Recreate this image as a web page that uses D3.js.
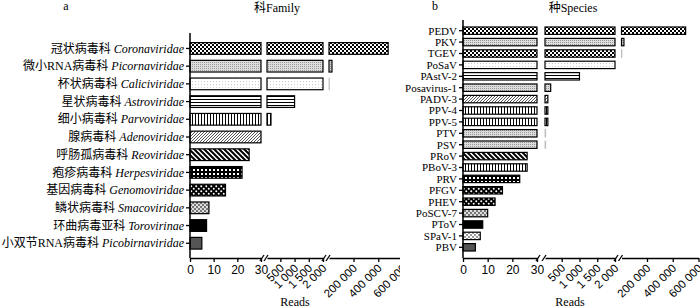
<!DOCTYPE html>
<html>
<head>
<meta charset="utf-8">
<script src="https://cdn.jsdelivr.net/npm/d3@7"></script>
<style>
  body { margin: 0; background: #fff; }
  svg { display: block; font-family: "Liberation Serif", "Times New Roman", "Noto Sans CJK SC", serif; }
</style>
</head>
<body>
<div id="chart"></div>
<script>
// data
const familyCn = ["冠状病毒科", "微小RNA病毒科", "杯状病毒科", "星状病毒科", "细小病毒科", "腺病毒科",
  "呼肠孤病毒科", "疱疹病毒科", "基因病毒科", "鳞状病毒科", "环曲病毒亚科", "小双节RNA病毒科"];
const familyLatin = ["Coronaviridae", "Picornaviridae", "Caliciviridae", "Astroviridae", "Parvoviridae", "Adenoviridae",
  "Reoviridae", "Herpesviridae", "Genomoviridae", "Smacoviridae", "Torovirinae", "Picobirnaviridae"];
const familyReads = [480000, 26000, 6000, 1000, 170, 30, 25, 22, 15, 8, 7, 5];

const speciesNames = ["PEDV", "PKV", "TGEV", "PoSaV", "PAstV-2", "Posavirus-1", "PADV-3", "PPV-4", "PPV-5", "PTV", "PSV",
  "PRoV", "PBoV-3", "PRV", "PFGV", "PHEV", "PoSCV-7", "PToV", "SPaV-1", "PBV"];
const speciesReads = [500000, 21000, 5000, 2000, 1000, 190, 110, 110, 110, 50, 50,
  26, 26, 23, 16, 13, 10, 8, 7, 5];

// broken x axis: three segments
const segDomains = [[0, 30], [30, 2000], [2000, 600000]];
const segTicks = [[0, 10, 20, 30], [500, 1000, 1500, 2000], [200000, 400000, 600000]];

// fill pattern per bar (style)
const familyFill = ["check", "grayDots", "lightDots", "hLines", "vLines", "diagFine",
  "diagThick", "grid", "dots", "grayCheck", "black", "darkGray"];
const speciesFill = ["check", "grayDots", "check", "lightDots", "hLines", "grayDots", "diagFine", "vLines", "vLines", "grayDots", "grayDots",
  "diagThick", "vLines", "grid", "dots", "dots", "grayCheck", "black", "lightCheck", "darkGray"];

const W = 700, H = 308;
const svg = d3.select("#chart").append("svg").attr("width", W).attr("height", H);
const defs = svg.append("defs");

function pat(id, w, h, bg, draw) {
  const p = defs.append("pattern").attr("id", id)
    .attr("patternUnits", "userSpaceOnUse").attr("width", w).attr("height", h);
  p.append("rect").attr("width", w).attr("height", h).attr("fill", bg);
  draw(p);
}
const sq = (p, x, y, s, c) => p.append("rect").attr("x", x).attr("y", y).attr("width", s).attr("height", s).attr("fill", c);

pat("check", 4, 4, "#fff", p => { sq(p, 0, 0, 2, "#000"); sq(p, 2, 2, 2, "#000"); });
pat("grayCheck", 4, 4, "#777", p => { sq(p, 0, 0, 2, "#ddd"); sq(p, 2, 2, 2, "#ddd"); });
pat("lightCheck", 4, 4, "#fff", p => { sq(p, 0, 0, 2, "#999"); sq(p, 2, 2, 2, "#999"); });
pat("grayDots", 2, 2, "#ddd", p => { sq(p, 0, 0, 1, "#999"); });
pat("lightDots", 3, 3, "#fff", p => { sq(p, 0, 0, 1, "#ccc"); });
pat("hLines", 3, 3, "#fff", p => { p.append("rect").attr("width", 3).attr("height", 1).attr("fill", "#000"); });
pat("vLines", 3, 3, "#fff", p => { p.append("rect").attr("width", 1).attr("height", 3).attr("fill", "#000"); });
pat("diagFine", 3, 3, "#fff", p => {
  p.append("path").attr("d", "M-1,1 l2,-2 M0,3 l3,-3 M2,4 l2,-2").attr("stroke", "#555").attr("stroke-width", 1);
});
pat("diagThick", 5, 5, "#fff", p => {
  p.append("path").attr("d", "M-1,-1 l7,7 M-1,4 l2,2 M4,-1 l2,2").attr("stroke", "#000").attr("stroke-width", 2);
});
pat("grid", 4, 4, "#000", p => { sq(p, 1, 1, 2, "#fff"); });
pat("dots", 5, 5, "#000", p => {
  p.append("circle").attr("cx", 1.25).attr("cy", 1.25).attr("r", 1).attr("fill", "#fff");
  p.append("circle").attr("cx", 3.75).attr("cy", 3.75).attr("r", 1).attr("fill", "#fff");
});
const fillOf = k => k === "black" ? "#000" : k === "darkGray" ? "#555" : `url(#${k})`;

const locale = d3.formatLocale({ decimal: ".", thousands: " ", grouping: [3], currency: ["", ""] });
const fmt = locale.format(",");

function drawPanel(cfg) {
  defs.append("clipPath").attr("id", "clip-" + cfg.id)
    .append("rect").attr("x", cfg.clip[0]).attr("y", 0).attr("width", cfg.clip[1] - cfg.clip[0]).attr("height", H);
  const g = svg.append("g").attr("clip-path", `url(#clip-${cfg.id})`);

  const y = d3.scaleBand().domain(d3.range(cfg.values.length)).range(cfg.yRange).padding(cfg.pad);
  const xs = segDomains.map((d, i) => d3.scaleLinear().domain(d).range(cfg.segRanges[i]));

  // bars, one rectangle per segment
  xs.forEach((x, si) => {
    const [d0, d1] = x.domain();
    g.append("g").selectAll("rect")
      .data(cfg.values.map((v, i) => ({ v, i, w: x(Math.min(v, d1)) - x(d0) })).filter(d => d.v > d0))
      .join("rect")
      .attr("x", x(d0))
      .attr("y", d => y(d.i))
      .attr("width", d => Math.max(0.4, d.w))
      .attr("height", y.bandwidth())
      .attr("fill", d => fillOf(cfg.fills[d.i]))
      .attr("stroke", d => d.w < 1.5 ? "#bbb" : "#000")
      .attr("stroke-width", d => d.w < 1.5 ? 0.8 : 1.2);
  });

  // x axes
  xs.forEach((x, si) => {
    const ax = g.append("g").attr("transform", `translate(0,${cfg.axisY})`)
      .call(d3.axisBottom(x).tickValues(segTicks[si]).tickFormat(fmt).tickSize(4).tickSizeOuter(0));
    ax.select(".domain").attr("stroke-width", 1.5);
    ax.selectAll(".tick line").attr("stroke-width", 1.3);
    ax.selectAll("text").attr("font-size", 12).attr("fill", "#000");
    if (si > 0) {
      ax.selectAll("text")
        .attr("text-anchor", "end")
        .attr("x", 0).attr("y", 0).attr("dy", "0.35em")
        .attr("transform", "translate(1,8) rotate(-45)")
        .attr("font-size", 11.5);
    }
  });

  // break marks
  for (let i = 0; i < 2; i++) {
    [cfg.segRanges[i][1] + 1, cfg.segRanges[i + 1][0] - 1].forEach(bx => {
      g.append("line").attr("x1", bx - 2).attr("y1", cfg.axisY + 3).attr("x2", bx + 2).attr("y2", cfg.axisY - 3)
        .attr("stroke", "#000").attr("stroke-width", 1.3);
    });
  }

  // y axis
  const yAx = g.append("g").attr("transform", `translate(${cfg.segRanges[0][0]},0)`)
    .call(d3.axisLeft(y).tickSize(4).tickSizeOuter(0).tickFormat(""));
  yAx.select(".domain").attr("d", `M0,${cfg.axisTop}V${cfg.axisY}`).attr("stroke-width", 1.5);
  yAx.selectAll(".tick line").attr("stroke-width", 1.3);

  g.append("g").selectAll("text").data(cfg.values).join("text")
    .attr("x", cfg.segRanges[0][0] - 6)
    .attr("y", (d, i) => y(i) + y.bandwidth() / 2)
    .attr("dy", "0.35em")
    .attr("text-anchor", "end")
    .attr("font-size", cfg.labelSize)
    .each(function (d, i) { cfg.label(d3.select(this), i); });

  // titles
  svg.append("text").attr("x", cfg.tagX).attr("y", 10).attr("font-size", 12).attr("text-anchor", "middle").text(cfg.tag);
  svg.append("text").attr("x", cfg.headX).attr("y", 12).attr("font-size", 12).attr("text-anchor", "middle").text(cfg.head);
  g.append("text").attr("x", cfg.readsX).attr("y", 306).attr("font-size", 12).attr("text-anchor", "middle").text("Reads");
}

drawPanel({
  id: "a", values: familyReads, fills: familyFill, labelSize: 12,
  yRange: [36.6, 255.1], pad: 0.34, axisTop: 33, axisY: 258,
  segRanges: [[190, 261], [267, 323], [329, 403]], clip: [0, 400],
  tag: "a", tagX: 66, head: "科Family", headX: 277, readsX: 295,
  label: (t, i) => {
    t.append("tspan").text(familyCn[i] + " ");
    t.append("tspan").attr("font-style", "italic").text(familyLatin[i]);
  }
});

drawPanel({
  id: "b", values: speciesReads, fills: speciesFill, labelSize: 11,
  yRange: [23, 255], pad: 0.35, axisTop: 20, axisY: 258,
  segRanges: [[463, 537], [545, 615], [621.5, 698.5]], clip: [400, 700],
  tag: "b", tagX: 435, head: "种Species", headX: 573, readsX: 570,
  label: (t, i) => t.text(speciesNames[i])
});
</script>
</body>
</html>
